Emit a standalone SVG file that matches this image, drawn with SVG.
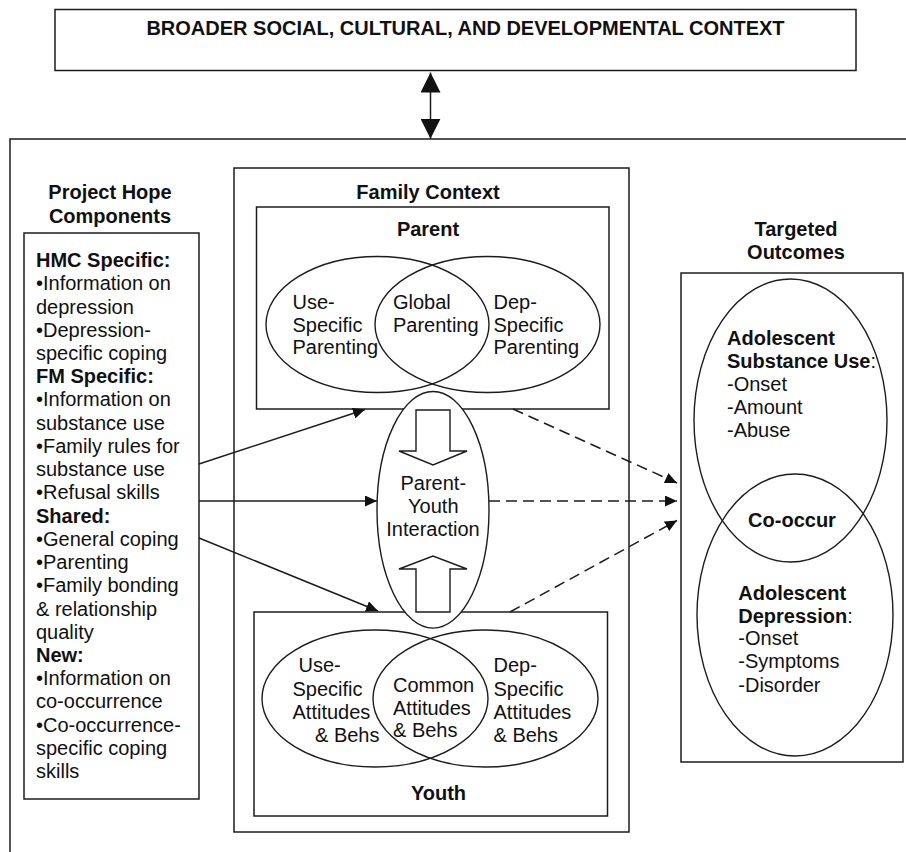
<svg xmlns="http://www.w3.org/2000/svg" width="906" height="852" viewBox="0 0 906 852">
<style>
.box{fill:none;stroke:#1c1c1c;stroke-width:1.5}
.ell{fill:none;stroke:#1c1c1c;stroke-width:1.4}
.wfill{fill:#fff;stroke:#1c1c1c;stroke-width:1.4}
.t{font-family:"Liberation Sans",Arial,Helvetica,sans-serif;font-size:20px;fill:#111}
.b{font-weight:bold}
.m{text-anchor:middle}
.ln{fill:none;stroke:#1c1c1c;stroke-width:1.5}
.dash{stroke-dasharray:11,6}
</style>
<defs>
<marker id="ah" viewBox="0 0 12 11" markerWidth="12" markerHeight="11" refX="12" refY="5.5" orient="auto" markerUnits="userSpaceOnUse"><path d="M0,0 L12,5.5 L0,11 Z" fill="#111"/></marker>
<marker id="big" viewBox="0 0 20 20" markerWidth="20" markerHeight="20" refX="20" refY="10" orient="auto-start-reverse" markerUnits="userSpaceOnUse"><path d="M0,0 L20,10 L0,20 Z" fill="#111"/></marker>
</defs>
<rect width="906" height="852" fill="#fff"/>

<g id="broader-context">
<rect class="box" x="55" y="9.5" width="801" height="61"/>
<text class="t b m" x="465.5" y="34.5">BROADER SOCIAL, CULTURAL, AND DEVELOPMENTAL CONTEXT</text>
</g>

<g id="outer-frame">
<path class="box" d="M10,852 V139 H906"/>
</g>

<g id="components">
<text class="t b m" x="110" y="199">Project Hope</text>
<text class="t b m" x="110" y="222.5">Components</text>
<rect class="box" x="24" y="233" width="175" height="566"/>
<text class="t" x="36">
<tspan class="b" x="36" y="267">HMC Specific:</tspan>
<tspan x="36" y="290.2">•Information on</tspan>
<tspan x="36" y="313.5">depression</tspan>
<tspan x="36" y="336.7">•Depression-</tspan>
<tspan x="36" y="359.9">specific coping</tspan>
<tspan class="b" x="36" y="383.2">FM Specific:</tspan>
<tspan x="36" y="406.4">•Information on</tspan>
<tspan x="36" y="429.6">substance use</tspan>
<tspan x="36" y="452.8">•Family rules for</tspan>
<tspan x="36" y="476.1">substance use</tspan>
<tspan x="36" y="499.3">•Refusal skills</tspan>
<tspan class="b" x="36" y="522.5">Shared:</tspan>
<tspan x="36" y="545.8">•General coping</tspan>
<tspan x="36" y="569">•Parenting</tspan>
<tspan x="36" y="592.2">•Family bonding</tspan>
<tspan x="36" y="615.5">&amp; relationship</tspan>
<tspan x="36" y="638.7">quality</tspan>
<tspan class="b" x="36" y="661.9">New:</tspan>
<tspan x="36" y="685.2">•Information on</tspan>
<tspan x="36" y="708.4">co-occurrence</tspan>
<tspan x="36" y="731.6">•Co-occurrence-</tspan>
<tspan x="36" y="754.8">specific coping</tspan>
<tspan x="36" y="778">skills</tspan>
</text>
</g>

<g id="family-context">
<rect class="box" x="234" y="168" width="395" height="664"/>
<text class="t b m" x="428" y="199">Family Context</text>
</g>

<g id="parent">
<rect class="box" x="256.5" y="207" width="352.5" height="202"/>
<text class="t b m" x="428" y="236">Parent</text>
<ellipse class="ell" cx="377.5" cy="324.5" rx="111.5" ry="68"/>
<ellipse class="ell" cx="487.5" cy="324.5" rx="112.5" ry="68"/>
<text class="t"><tspan x="292.5" y="309">Use-</tspan><tspan x="292.5" y="331.5">Specific</tspan><tspan x="292.5" y="354">Parenting</tspan></text>
<text class="t"><tspan x="393" y="309">Global</tspan><tspan x="393" y="331.5">Parenting</tspan></text>
<text class="t"><tspan x="493.5" y="309">Dep-</tspan><tspan x="493.5" y="331.5">Specific</tspan><tspan x="493.5" y="354">Parenting</tspan></text>
</g>

<g id="youth">
<rect class="box" x="254" y="612" width="353.5" height="204"/>
<ellipse class="ell" cx="375" cy="698.5" rx="113" ry="68.5"/>
<ellipse class="ell" cx="485.5" cy="698.5" rx="112.5" ry="68.5"/>
<text class="t"><tspan x="298.5" y="672">Use-</tspan><tspan x="292.5" y="695.5">Specific</tspan><tspan x="292.5" y="719">Attitudes</tspan><tspan x="315" y="742">&amp; Behs</tspan></text>
<text class="t"><tspan x="393" y="692">Common</tspan><tspan x="393" y="714.5">Attitudes</tspan><tspan x="393" y="737">&amp; Behs</tspan></text>
<text class="t"><tspan x="493.5" y="672">Dep-</tspan><tspan x="493.5" y="695.5">Specific</tspan><tspan x="493.5" y="719">Attitudes</tspan><tspan x="493.5" y="742">&amp; Behs</tspan></text>
<text class="t b m" x="438.5" y="800">Youth</text>
</g>

<g id="parent-youth-interaction">
<ellipse class="wfill" cx="433" cy="509.8" rx="56" ry="118.3"/>
<path class="ell" d="M416,410 H450 V451 H467 L433,465 L399,451 H416 Z"/>
<path class="ell" d="M416,612 H450 V569 H467 L433,556 L399,569 H416 Z"/>
<text class="t m"><tspan x="433.3" y="490">Parent-</tspan><tspan x="433.3" y="513.3">Youth</tspan><tspan x="433" y="536">Interaction</tspan></text>
</g>

<g id="targeted-outcomes">
<text class="t b m" x="796" y="236">Targeted</text>
<text class="t b m" x="796" y="259">Outcomes</text>
<rect class="box" x="681" y="273" width="222" height="489"/>
<ellipse class="ell" cx="790.5" cy="420.5" rx="96.5" ry="141.5"/>
<ellipse class="ell" cx="795" cy="615" rx="98" ry="141"/>
<text class="t"><tspan class="b" x="727" y="345">Adolescent</tspan><tspan class="b" x="727" y="368.3">Substance Use</tspan><tspan>:</tspan><tspan x="727" y="391">-Onset</tspan><tspan x="727" y="414.3">-Amount</tspan><tspan x="727" y="437.3">-Abuse</tspan></text>
<text class="t b m" x="792" y="527">Co-occur</text>
<text class="t"><tspan class="b" x="738.3" y="600">Adolescent</tspan><tspan class="b" x="738.3" y="622.5">Depression</tspan><tspan>:</tspan><tspan x="738.3" y="645">-Onset</tspan><tspan x="738.3" y="668.3">-Symptoms</tspan><tspan x="738.3" y="691.7">-Disorder</tspan></text>
</g>

<g id="connectors">
<line class="ln" x1="430.5" y1="72.5" x2="430.5" y2="138.7" marker-start="url(#big)" marker-end="url(#big)"/>
<line class="ln" x1="199" y1="464" x2="365" y2="409.5" marker-end="url(#ah)"/>
<line class="ln" x1="199" y1="501" x2="377" y2="501" marker-end="url(#ah)"/>
<line class="ln" x1="199" y1="538" x2="378" y2="611" marker-end="url(#ah)"/>
<line class="ln dash" x1="513" y1="409" x2="677" y2="483" marker-end="url(#ah)"/>
<line class="ln dash" x1="489" y1="501" x2="677" y2="501" marker-end="url(#ah)"/>
<line class="ln dash" x1="510" y1="612" x2="677" y2="520.5" marker-end="url(#ah)"/>
</g>
</svg>
